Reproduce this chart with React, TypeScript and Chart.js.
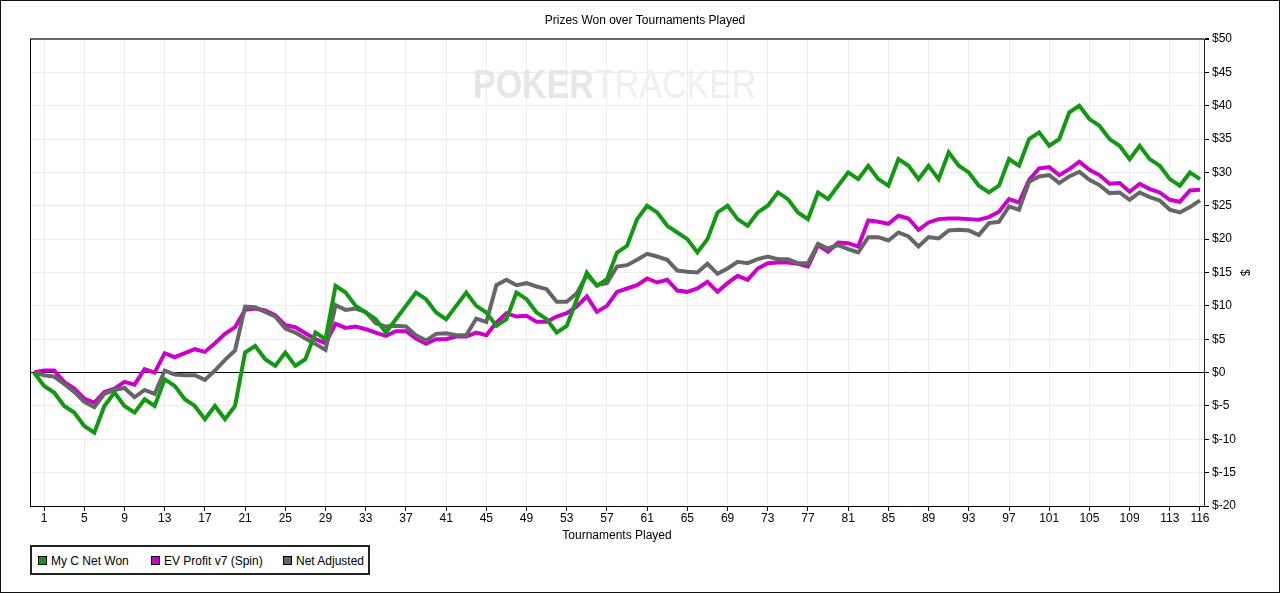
import { useEffect, useRef } from "react";
import { Chart, registerables, ChartConfiguration, Plugin } from "chart.js";

Chart.register(...registerables);

// tournament index 0..116 (0 = start at $0)
const netWon = [
  0, -2, -3, -5, -6, -8, -9, -5, -3, -5,
  -6, -4, -5, -1, -2, -4, -5, -7, -5, -7,
  -5, 3, 4, 2, 1, 3, 1, 2, 6, 5,
  13, 12, 10, 9, 8, 6, 8, 10, 12, 11,
  9, 8, 10, 12, 10, 9, 7, 8, 12, 11,
  9, 8, 6, 7, 11, 15, 13, 14, 18, 19,
  23, 25, 24, 22, 21, 20, 18, 20, 24, 25,
  23, 22, 24, 25, 27, 26, 24, 23, 27, 26,
  28, 30, 29, 31, 29, 28, 32, 31, 29, 31,
  29, 33, 31, 30, 28, 27, 28, 32, 31, 35,
  36, 34, 35, 39, 40, 38, 37, 35, 34, 32,
  34, 32, 31, 29, 28, 30, 29,
];

const evProfit = [
  0, 0.3, 0.3, -1.4, -2.4, -3.9, -4.5, -2.9, -2.4, -1.4,
  -1.8, 0.5, 0, 2.9, 2.3, 2.9, 3.5, 3.1, 4.4, 5.8,
  6.8, 9.4, 9.6, 9.3, 8.6, 7.1, 6.8, 5.9, 5.0, 4.4,
  7.3, 6.7, 6.9, 6.5, 6.0, 5.5, 6.2, 6.2, 5.1, 4.3,
  5.0, 5.0, 5.4, 5.4, 6.0, 5.6, 7.5, 8.9, 8.4, 8.5,
  7.6, 7.6, 8.4, 8.9, 9.9, 11.4, 9.1, 10.0, 12.1, 12.6,
  13.1, 14.1, 13.5, 13.9, 12.3, 12.1, 12.6, 13.6, 12.1, 13.4,
  14.5, 13.9, 15.6, 16.4, 16.5, 16.5, 16.3, 15.9, 19.1, 18.1,
  19.5, 19.4, 18.9, 22.8, 22.6, 22.3, 23.5, 23.1, 21.4, 22.5,
  23.0, 23.1, 23.1, 23.0, 22.9, 23.3, 24.1, 26.0, 25.5, 28.9,
  30.6, 30.8, 29.6, 30.5, 31.6, 30.4, 29.6, 28.3, 28.4, 27.1,
  28.3, 27.5, 27.0, 25.9, 25.6, 27.3, 27.4,
];

const netAdjusted = [
  0, -0.4, -0.6, -1.7, -2.9, -4.4, -5.2, -3.2, -2.6, -2.3,
  -3.7, -2.6, -3.2, 0.3, -0.3, -0.4, -0.4, -1.1, 0.3, 1.9,
  3.3, 9.9, 9.8, 9.1, 8.4, 6.6, 6.0, 5.1, 4.3, 3.4,
  10.1, 9.4, 9.6, 9.1, 7.4, 6.9, 7.0, 6.9, 5.6, 4.8,
  5.8, 5.9, 5.6, 5.6, 8.1, 7.6, 13.1, 13.9, 13.1, 13.4,
  12.9, 12.5, 10.6, 10.6, 11.9, 14.6, 13.1, 13.4, 15.9, 16.1,
  16.9, 17.8, 17.4, 16.9, 15.3, 15.1, 15.0, 16.3, 14.8, 15.6,
  16.6, 16.4, 17.0, 17.4, 17.0, 17.0, 16.4, 16.4, 19.3, 18.6,
  19.1, 18.5, 18.0, 20.3, 20.3, 19.8, 21.0, 20.4, 18.9, 20.3,
  20.1, 21.3, 21.4, 21.3, 20.6, 22.4, 22.6, 24.9, 24.4, 28.6,
  29.4, 29.6, 28.4, 29.4, 30.1, 28.9, 28.1, 26.9, 27.0, 25.9,
  27.0, 26.3, 25.8, 24.4, 24.0, 24.8, 25.8,
];

const xTicks = [1, 5, 9, 13, 17, 21, 25, 29, 33, 37, 41, 45, 49, 53, 57, 61, 65, 69, 73, 77, 81, 85, 89, 93, 97, 101, 105, 109, 113, 116];

const seriesNames = ["My C Net Won", "EV Profit v7 (Spin)", "Net Adjusted"];
const seriesColors = ["#119a11", "#cc00cc", "#666666"];

const FONT = "'Liberation Sans', Arial, sans-serif";

const framePlugin: Plugin<"line"> = {
  id: "frame",
  beforeDatasetsDraw(chart) {
    const { ctx, chartArea } = chart;
    ctx.save();
    // watermark
    ctx.textBaseline = "middle";
    ctx.textAlign = "left";
    ctx.translate(473, 87);
    ctx.scale(0.85, 1);
    ctx.font = `bold 40px ${FONT}`;
    ctx.fillStyle = "#e6e6e6";
    ctx.fillText("POKER", 0, 0);
    const w = ctx.measureText("POKER").width;
    ctx.font = `40px ${FONT}`;
    ctx.fillStyle = "#efefef";
    ctx.fillText("TRACKER", w, 0);
    ctx.restore();

    ctx.save();
    ctx.strokeStyle = "#000";
    ctx.lineWidth = 1;
    ctx.beginPath();
    ctx.moveTo(chartArea.left + 0.5, chartArea.top);
    ctx.lineTo(chartArea.left + 0.5, chartArea.bottom);
    ctx.stroke();
    ctx.restore();
  },
  afterDraw(chart) {
    const { ctx, width, height } = chart;
    ctx.save();
    ctx.strokeStyle = "#111";
    ctx.lineWidth = 1;
    ctx.strokeRect(0.5, 0.5, width - 1, height - 1);
    ctx.restore();
  },
};

export default function App() {
  const canvasRef = useRef<HTMLCanvasElement>(null);
  const chartRef = useRef<Chart | null>(null);

  useEffect(() => {
    document.body.style.margin = "0";
    if (!canvasRef.current) return;

    if (chartRef.current) {
      chartRef.current.destroy();
    }

    const lists = [netWon, evProfit, netAdjusted];

    const config: ChartConfiguration<"line"> = {
      type: "line",
      data: {
        datasets: lists.map((values, i) => ({
          label: seriesNames[i],
          data: values.map((y, x) => ({ x, y })),
          borderColor: seriesColors[i],
          backgroundColor: seriesColors[i],
          borderWidth: 4,
          pointRadius: 0,
          tension: 0,
          order: i === 0 ? 0 : i === 2 ? 1 : 2,
        })),
      },
      options: {
        animation: false,
        responsive: false,
        layout: { padding: { left: 30, right: 20, bottom: 47, top: 0 } },
        plugins: {
          legend: { display: false },
          tooltip: { enabled: false },
          title: {
            display: true,
            text: "Prizes Won over Tournaments Played",
            color: "#000",
            font: { family: FONT, size: 12, weight: "normal" },
            padding: { top: 13, bottom: 11.6 },
          },
        },
        scales: {
          x: {
            type: "linear",
            min: -0.4,
            max: 116.4,
            afterBuildTicks: (scale) => {
              scale.ticks = xTicks.map((value) => ({ value }));
            },
            afterFit: (scale) => {
              scale.height = 40;
            },
            grid: {
              color: "#ececec",
              tickColor: "#000",
              tickLength: 5,
            },
            border: { color: "#000", width: 1 },
            ticks: {
              color: "#000",
              font: { family: FONT, size: 12 },
              padding: 0,
              maxRotation: 0,
              autoSkip: false,
            },
            title: {
              display: true,
              text: "Tournaments Played",
              color: "#000",
              font: { family: FONT, size: 12 },
              padding: { top: 0, bottom: 3 },
            },
          },
          y: {
            position: "right",
            min: -20,
            max: 50,
            afterFit: (scale) => {
              scale.width = 56;
            },
            grid: {
              color: (c) => (c.tick && c.tick.value === 0 ? "#000" : c.tick && c.tick.value === 50 ? "#666" : "#ececec"),
              lineWidth: (c) => (c.tick && c.tick.value === 50 ? 2 : 1),
              tickColor: "#000",
              tickLength: 5,
            },
            border: { color: "#222", width: 1 },
            ticks: {
              stepSize: 5,
              color: "#000",
              font: { family: FONT, size: 12 },
              padding: 3,
              callback: (v) => "$" + v,
            },
            title: {
              display: true,
              text: "$",
              color: "#000",
              font: { family: FONT, size: 12 },
              padding: { top: 8, bottom: 0 },
            },
          },
        },
      },
      plugins: [framePlugin],
    };

    chartRef.current = new Chart(canvasRef.current, config);

    return () => {
      if (chartRef.current) {
        chartRef.current.destroy();
        chartRef.current = null;
      }
    };
  }, []);

  return (
    <div style={{ position: "relative", width: 1280, height: 593, fontFamily: FONT }}>
      <canvas ref={canvasRef} width={1280} height={593} style={{ display: "block", width: 1280, height: 593 }} />
      <div
        style={{
          position: "absolute",
          left: 30,
          top: 545,
          width: 340,
          height: 30,
          boxSizing: "border-box",
          border: "2px solid #222",
          background: "#fff",
          fontSize: 12,
          color: "#000",
        }}
      >
        {seriesNames.map((name, i) => (
          <div
            key={name}
            style={{
              position: "absolute",
              left: [6, 119, 251][i],
              top: 6,
              height: 15,
              display: "flex",
              alignItems: "center",
              whiteSpace: "nowrap",
            }}
          >
            <span
              style={{
                display: "inline-block",
                width: 7,
                height: 7,
                border: "1px solid #000",
                background: seriesColors[i],
                marginRight: 4,
              }}
            />
            {name}
          </div>
        ))}
      </div>
    </div>
  );
}
